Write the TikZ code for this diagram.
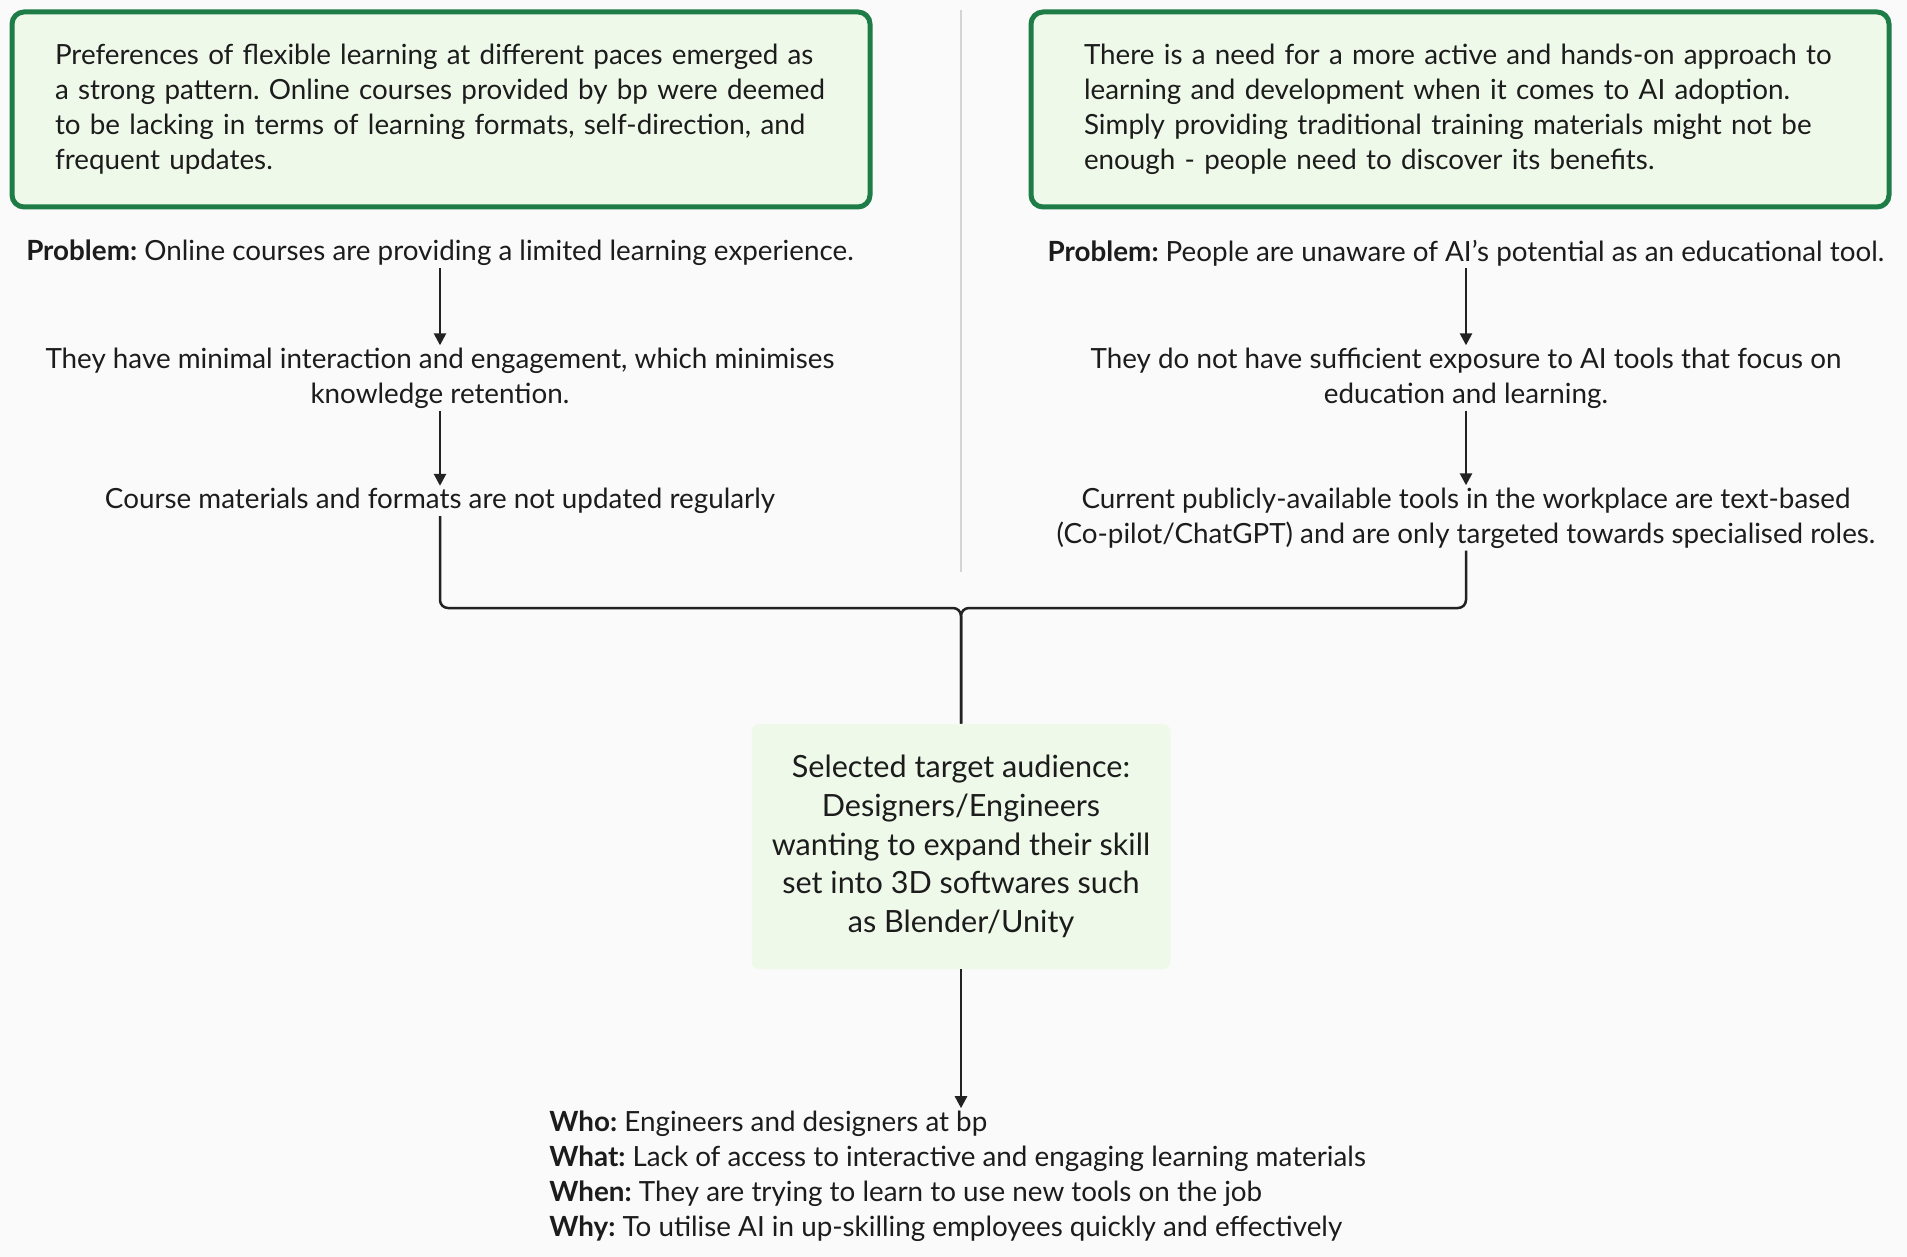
\documentclass[tikz,border=0pt]{standalone}
\usepackage{fontspec}
\setmainfont{Lato}
\frenchspacing
\usetikzlibrary{arrows.meta,positioning}
\definecolor{boxgreen}{HTML}{1E7D46}
\definecolor{boxfill}{HTML}{EFF9EA}
\definecolor{bgcol}{HTML}{FAFAFA}
\definecolor{txt}{HTML}{1C1C1C}
\definecolor{sepgray}{HTML}{D4D4D4}
\definecolor{linecol}{HTML}{222222}

\tikzset{
    plain/.style={text=txt, inner sep=1pt, align=center, font=\fontsize{13.9}{17.5}\selectfont},
    finding/.style={plain, draw=boxgreen, line width=2.5pt, fill=boxfill, rounded corners=6pt,
        text width=386pt, inner xsep=21.5pt, minimum height=97.5pt, align=left},
    audience/.style={plain, fill=boxfill, rounded corners=4pt, minimum width=209.5pt, minimum height=122.5pt,
        font=\fontsize{15.3}{19.3}\selectfont},
    flow/.style={draw=linecol, line width=1.25pt, -{Triangle[length=6pt, width=6pt]}},
    fork/.style={draw=linecol, line width=1.25pt, rounded corners=4pt}
}

\begin{document}
\begin{tikzpicture}[x=0.5pt, y=-0.5pt]
        \fill[bgcol] (0, 0) rectangle (1907, 1257);
        \draw[sepgray, line width=1pt] (961, 10) -- (961, 572);

        \node[finding] (fl) at (441, 109.5) {Preferences of flexible learning at different paces emerged as\\
            a strong pattern. Online courses provided by bp were deemed\\
            to be lacking in terms of learning formats, self-direction, and\\
            frequent updates.};
        \node[finding, text width=376pt, inner xsep=26.5pt] (fr) at (1460, 109.5) {There is a need for a more active and hands-on approach to\\
            learning and development when it comes to AI adoption.\\
            Simply providing traditional training materials might not be\\
            enough - people need to discover its benefits.};

        \node[plain] (pl) at (440, 253) {\textbf{Problem:} Online courses are providing a limited learning experience.};
        \node[plain] (ml) at (440, 378) {They have minimal interaction and engagement, which minimises\\knowledge retention.};
        \node[plain] (cl) at (440, 501) {Course materials and formats are not updated regularly};

        \node[plain] (pr) at (1466, 253) {\textbf{Problem:} People are unaware of AI's potential as an educational tool.};
        \node[plain] (mr) at (1466, 378) {They do not have sufficient exposure to AI tools that focus on\\education and learning.};
        \node[plain] (cr) at (1466, 518) {Current publicly-available tools in the workplace are text-based\\(Co-pilot/ChatGPT) and are only targeted towards specialised roles.};

        \coordinate (join) at (961, 608);
        \node[audience] (aud) at (961, 846.5) {Selected target audience:\\Designers/Engineers\\wanting to expand their skill\\set into 3D softwares such\\as Blender/Unity};

        \node[plain, anchor=west, align=left] (who) at (547, 1176) {\textbf{Who:} Engineers and designers at bp\\
            \textbf{What:} Lack of access to interactive and engaging learning materials\\
            \textbf{When:} They are trying to learn to use new tools on the job\\
            \textbf{Why:} To utilise AI in up-skilling employees quickly and effectively};

        \draw[flow] (pl) -- (ml);
        \draw[flow] (ml) -- (cl);
        \draw[flow] (pr) -- (mr);
        \draw[flow] (mr) -- (cr);
        \draw[fork] (cl.south) |- (join) -- (aud.north);
        \draw[fork] (cr.south) |- (join) -- (aud.north);
        \draw[flow] (aud.south) -- (aud.south |- who.north);
    \end{tikzpicture}
\end{document}
